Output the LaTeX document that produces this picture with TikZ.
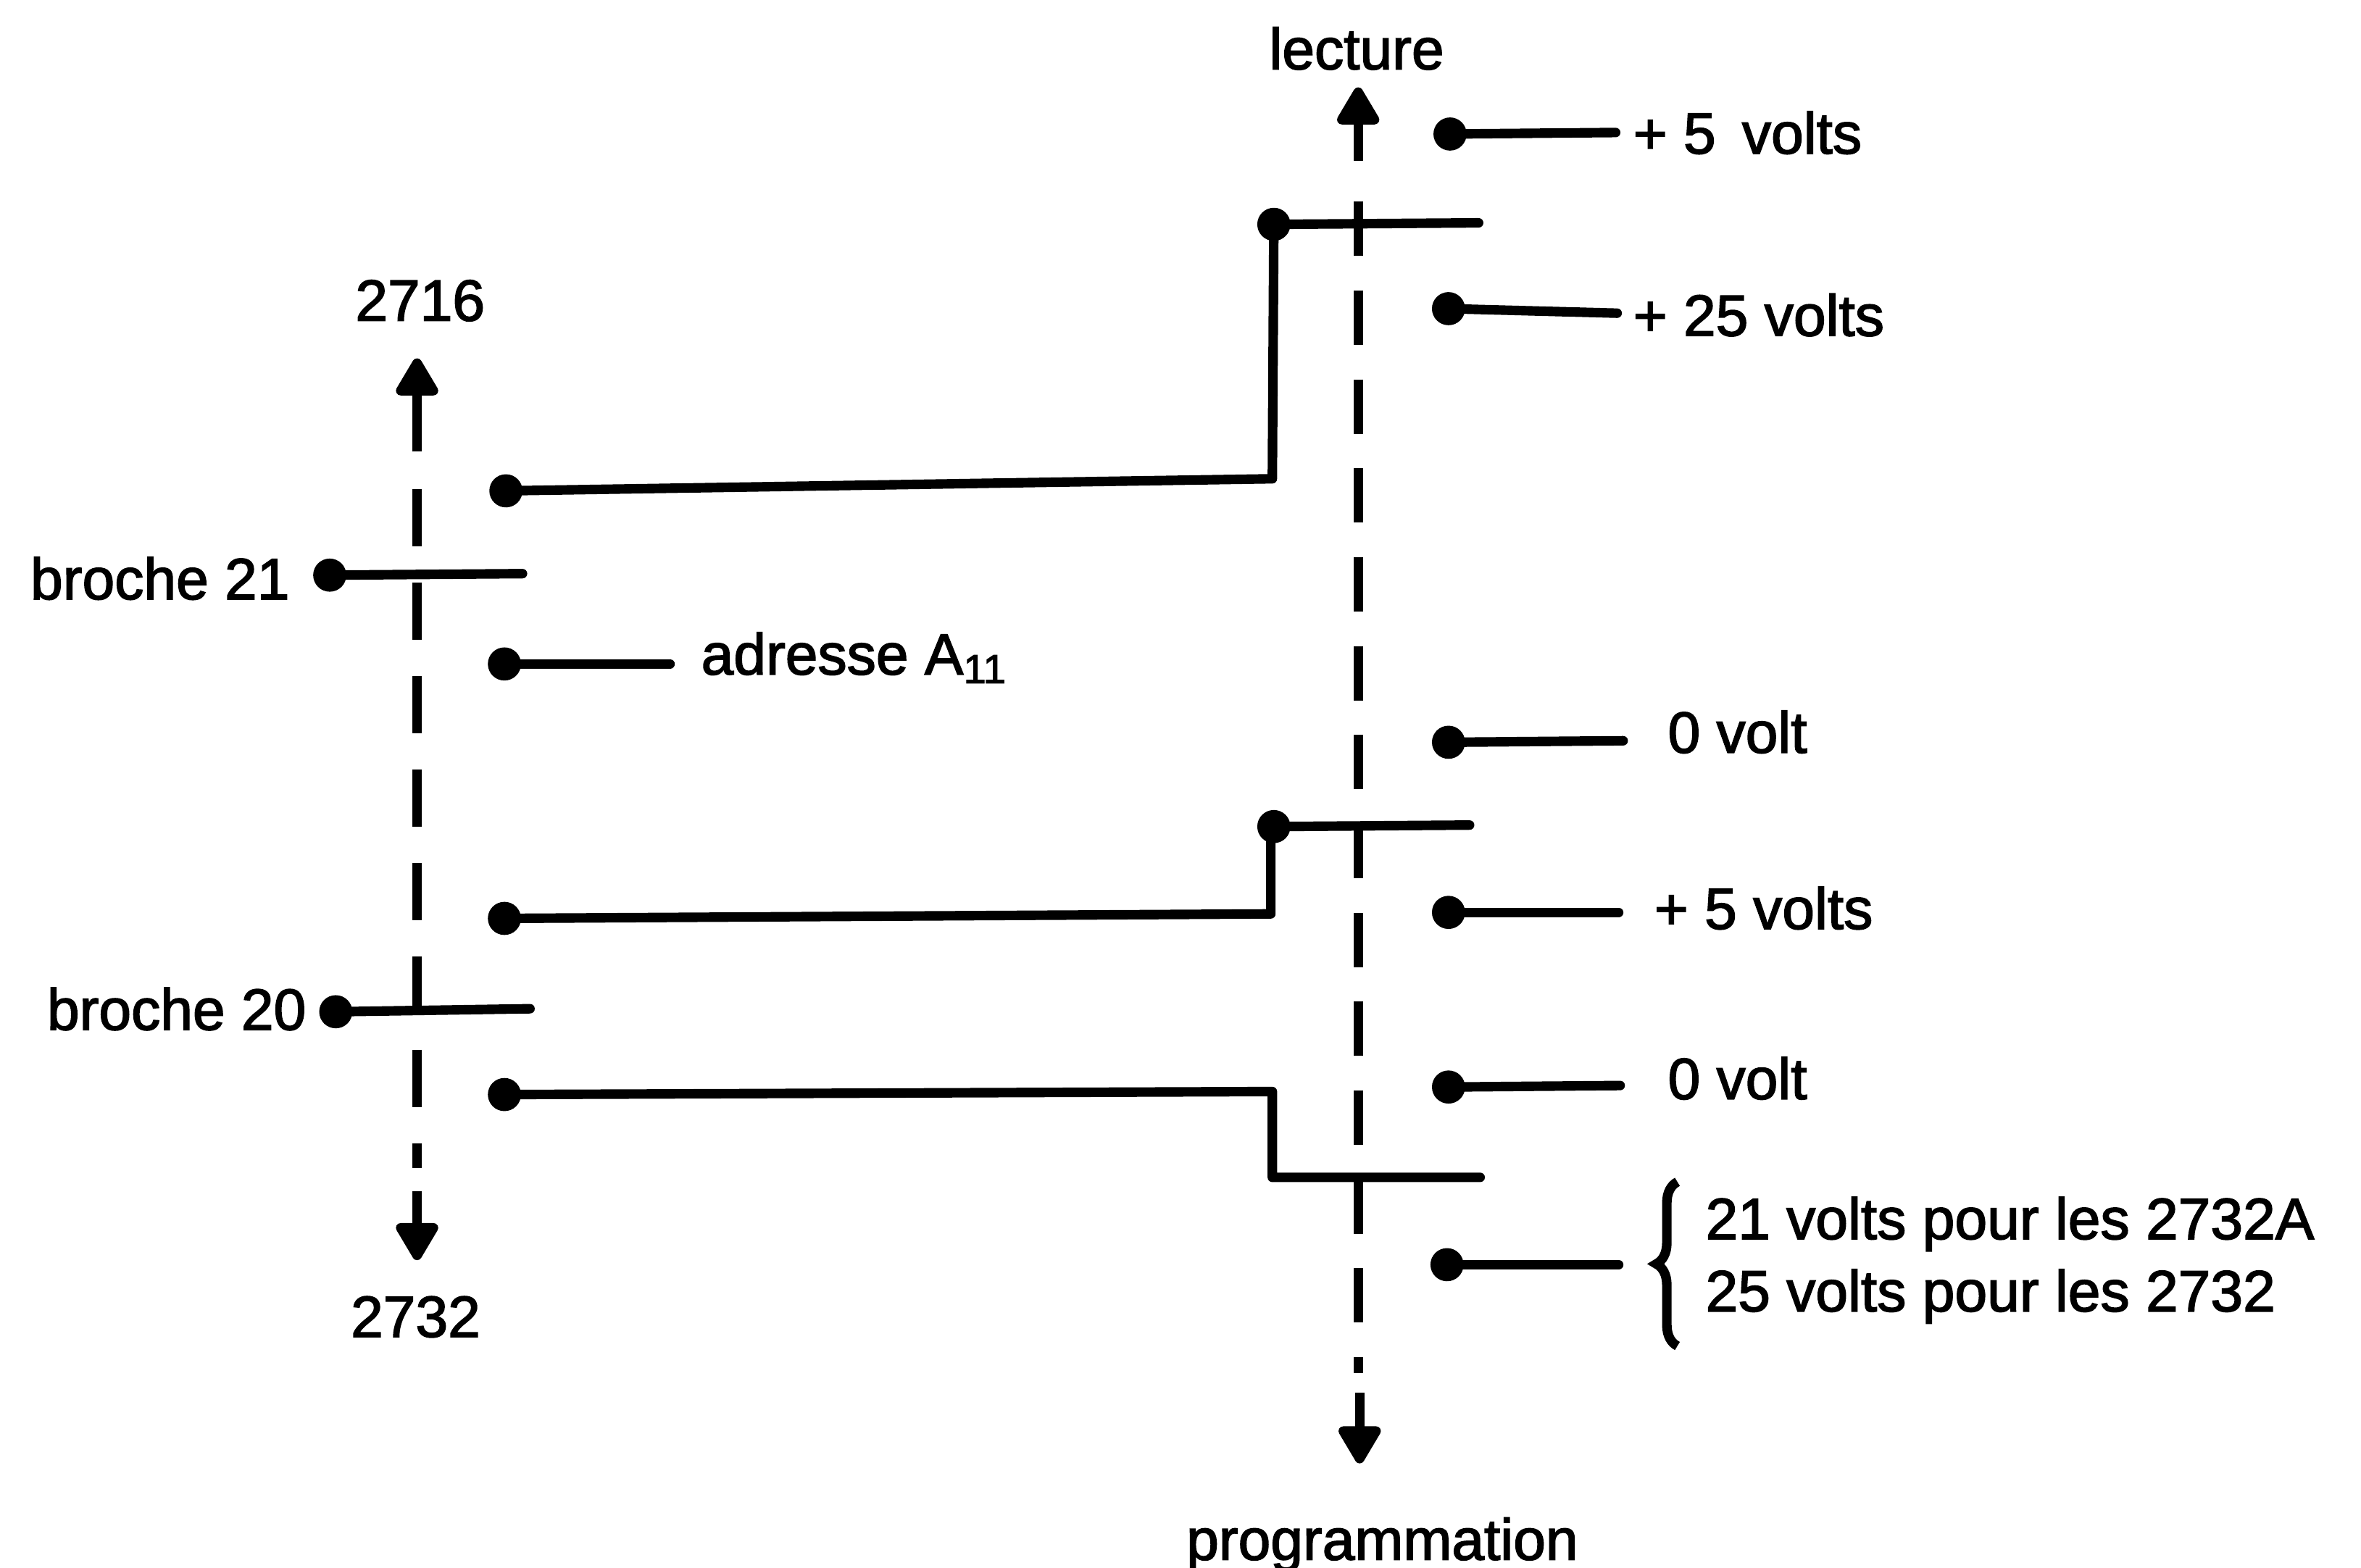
\documentclass[tikz,border=0pt]{standalone}
\usepackage{fontspec}
\setmainfont{Liberation Sans}[FakeBold=2]
\usetikzlibrary{arrows.meta,decorations.pathreplacing}
\begin{document}
\begin{tikzpicture}[x=0.01cm,y=-0.01cm,
  wire/.style={line width=1.8pt, line cap=round, line join=round},
  axisdash/.style={line width=1.8pt},
  tipline/.style={line width=1.8pt, -{Triangle[width=0.31cm,length=0.28cm,round]}},
  dot/.style={circle, fill, inner sep=0pt, minimum size=0.22cm},
  lbl/.style={inner sep=0pt, font=\fontsize{11}{13}\selectfont},
  bracestyle/.style={line width=1.8pt, decorate, decoration={brace, amplitude=0.14cm}},
]
\useasboundingbox (0,0) rectangle (1568,1041);

% ---------- left axis (2716 / 2732)
\coordinate (LtopTip) at (277,238);
\coordinate (LtopBase) at (277,300);
\coordinate (LdashA) at (277,325);
\coordinate (LdashB) at (277,776);
\coordinate (LbotBase) at (277,791);
\coordinate (LbotTip) at (277,837);
\draw[tipline] (LtopBase) -- (LtopTip);
\draw[axisdash, dash pattern=on 0.38cm off 0.24cm] (LdashA) -- (LdashB);
\draw[tipline] (LbotBase) -- (LbotTip);
\node[lbl, anchor=base] (t2716) at (279,213) {2716};
\node[lbl, anchor=base] (t2732) at (276,888) {2732};

% ---------- right axis (lecture / programmation)
\coordinate (RtopTip) at (902,58);
\coordinate (RtopBase) at (902,107);
\coordinate (RdashA) at (902,134);
\coordinate (RdashB) at (902,912);
\coordinate (RbotBase) at (903,925);
\coordinate (RbotTip) at (903,972);
\draw[tipline] (RtopBase) -- (RtopTip);
\draw[axisdash, dash pattern=on 0.36cm off 0.23cm] (RdashA) -- (RdashB);
\draw[tipline] (RbotBase) -- (RbotTip);
\node[lbl, anchor=base] (tlect) at (901,46) {lecture};
\node[lbl, anchor=base] (tprog) at (918,1036) {programmation};

% ---------- left contacts
\node[dot] (b21) at (219,382) {};
\coordinate (b21e) at (347,381);
\draw[wire] (b21.center) -- (b21e);
\node[lbl, anchor=base east] (tb21) at (193,398) {broche 21};

\node[dot] (b20) at (223,672) {};
\coordinate (b20e) at (352,670);
\draw[wire] (b20.center) -- (b20e);
\node[lbl, anchor=base east] (tb20) at (204,684) {broche 20};

\node[dot] (adr) at (335,441) {};
\coordinate (adre) at (445,441);
\draw[wire] (adr.center) -- (adre);
\node[lbl, anchor=base west] (tadr) at (465,448) {adresse A\textsubscript{11}};

% ---------- switch 1 (top)
\node[dot] (s1a) at (336,326) {};
\coordinate (s1k) at (845,318);
\node[dot] (s1c) at (846,149) {};
\coordinate (s1e) at (982,148);
\draw[wire] (s1a.center) -- (s1k) -- (s1c.center) -- (s1e);

% ---------- switch 2 (middle)
\node[dot] (s2a) at (335,610) {};
\coordinate (s2k) at (844,607);
\node[dot] (s2c) at (846,549) {};
\coordinate (s2e) at (976,548);
\draw[wire] (s2a.center) -- (s2k) -- (844,549) -- (s2c.center) -- (s2e);

% ---------- switch 3 (bottom)
\node[dot] (s3a) at (335,727) {};
\coordinate (s3k) at (845,725);
\coordinate (s3m) at (845,782);
\coordinate (s3e) at (983,782);
\draw[wire] (s3a.center) -- (s3k) -- (s3m) -- (s3e);

% ---------- right contacts
\node[dot] (r1) at (963,89) {};
\coordinate (r1e) at (1073,88);
\draw[wire] (r1.center) -- (r1e);
\node[lbl, anchor=base west] (tr1) at (1084,102) {+ 5\hspace{0.45em}volts};

\node[dot] (r2) at (962,205) {};
\coordinate (r2e) at (1074,208);
\draw[wire] (r2.center) -- (r2e);
\node[lbl, anchor=base west] (tr2) at (1084,223) {+ 25 volts};

\node[dot] (r3) at (962,493) {};
\coordinate (r3e) at (1078,492);
\draw[wire] (r3.center) -- (r3e);
\node[lbl, anchor=base west] (tr3) at (1107,500) {0 volt};

\node[dot] (r4) at (962,606) {};
\coordinate (r4e) at (1075,606);
\draw[wire] (r4.center) -- (r4e);
\node[lbl, anchor=base west] (tr4) at (1098,617) {+ 5 volts};

\node[dot] (r5) at (962,722) {};
\coordinate (r5e) at (1076,721);
\draw[wire] (r5.center) -- (r5e);
\node[lbl, anchor=base west] (tr5) at (1107,730) {0 volt};

\node[dot] (r6) at (961,840) {};
\coordinate (r6e) at (1075,840);
\draw[wire] (r6.center) -- (r6e);
\coordinate (brB) at (1114,894);
\coordinate (brT) at (1114,785);
\draw[bracestyle] (brB) -- (brT);
\node[lbl, anchor=base west] (tr6a) at (1132,823) {21 volts pour les 2732A};
\node[lbl, anchor=base west] (tr6b) at (1132,871) {25 volts pour les 2732};
\end{tikzpicture}
\end{document}
